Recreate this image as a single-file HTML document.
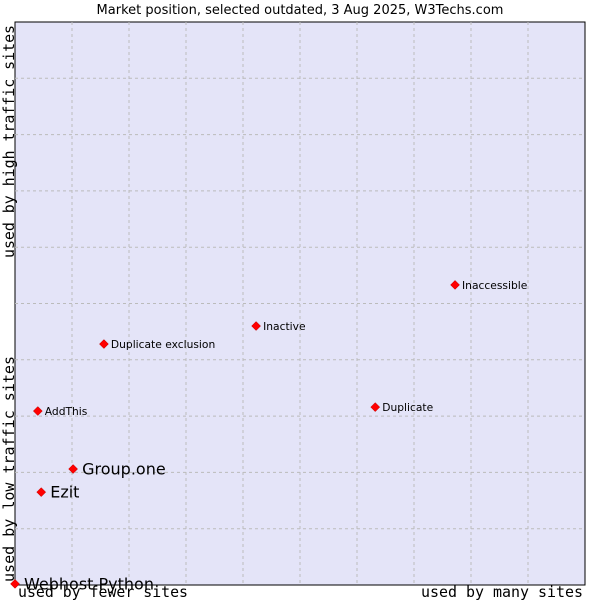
<!DOCTYPE html>
<html><head><meta charset="utf-8"><style>
body{margin:0;background:#fff;}
svg{display:block;font-family:"DejaVu Sans","Liberation Sans",sans-serif;}
</style></head><body>
<svg id="chart" width="600" height="600" viewBox="0 0 600 600">
<text x="300" y="14" text-anchor="middle" font-size="13" fill="#000">Market position, selected outdated, 3 Aug 2025, W3Techs.com</text>
<rect x="15" y="22" width="570" height="563" fill="#e4e4f8" stroke="#000" stroke-width="1"/>
<g id="grid"></g>
<g id="points"></g>
<text x="14" y="258" transform="rotate(-90 14 258)" font-family="'DejaVu Sans Mono','Liberation Mono',monospace" font-size="15" textLength="233" lengthAdjust="spacingAndGlyphs">used by high traffic sites</text>
<text x="14" y="582" transform="rotate(-90 14 582)" font-family="'DejaVu Sans Mono','Liberation Mono',monospace" font-size="15" textLength="226" lengthAdjust="spacingAndGlyphs">used by low traffic sites</text>
<text x="18" y="597" font-family="'DejaVu Sans Mono','Liberation Mono',monospace" font-size="15" textLength="170" lengthAdjust="spacingAndGlyphs">used by fewer sites</text>
<text x="583" y="597" text-anchor="end" font-family="'DejaVu Sans Mono','Liberation Mono',monospace" font-size="15" textLength="162" lengthAdjust="spacingAndGlyphs">used by many sites</text>
</svg>
<script>
const names=["Webhost Python","Ezit","Group.one","AddThis","Duplicate exclusion","Inactive","Duplicate","Inaccessible"];
const xVals=[0,0.46,1.02,0.40,1.56,4.23,6.32,7.72];
const yVals=[0.02,1.65,2.06,3.09,4.28,4.60,3.16,5.33];
const bigLabel=[true,true,true,false,false,false,false,false];
const NS="http://www.w3.org/2000/svg";
const L=15,R=585,T=22,B=585;
const xs=v=>L+v*(R-L)/10, ys=v=>B-v*(B-T)/10;
const grid=document.getElementById('grid');
for(let i=1;i<10;i++){
  const v=document.createElementNS(NS,'line');
  v.setAttribute('x1',xs(i));v.setAttribute('x2',xs(i));v.setAttribute('y1',T);v.setAttribute('y2',B);
  v.setAttribute('stroke','#bbb');v.setAttribute('stroke-dasharray','3,3');
  
  
  grid.appendChild(v);
  const h=document.createElementNS(NS,'line');
  h.setAttribute('y1',ys(i));h.setAttribute('y2',ys(i));h.setAttribute('x1',L);h.setAttribute('x2',R);
  h.setAttribute('stroke','#bbb');h.setAttribute('stroke-dasharray','3,3');
  
  
  grid.appendChild(h);
}
const pts=document.getElementById('points');
names.forEach((n,i)=>{
  const cx=xs(xVals[i]),cy=ys(yVals[i]);
  const d=document.createElementNS(NS,'path');
  d.setAttribute('d',`M${cx-4.5},${cy}L${cx},${cy-4.5}L${cx+4.5},${cy}L${cx},${cy+4.5}Z`);
  d.setAttribute('fill','#f00');d.setAttribute('stroke','#b00');d.setAttribute('stroke-width','0.5');
  
  
  pts.appendChild(d);
  const t=document.createElementNS(NS,'text');
  t.setAttribute('x',cx+(bigLabel[i]?9:7));
  t.setAttribute('y',cy+(bigLabel[i]?5.5:4));
  t.setAttribute('font-size',bigLabel[i]?'16':'10.7');
  t.setAttribute('fill','#000');
  t.textContent=n;
  
  
  pts.appendChild(t);
});
</script>
</body></html>
